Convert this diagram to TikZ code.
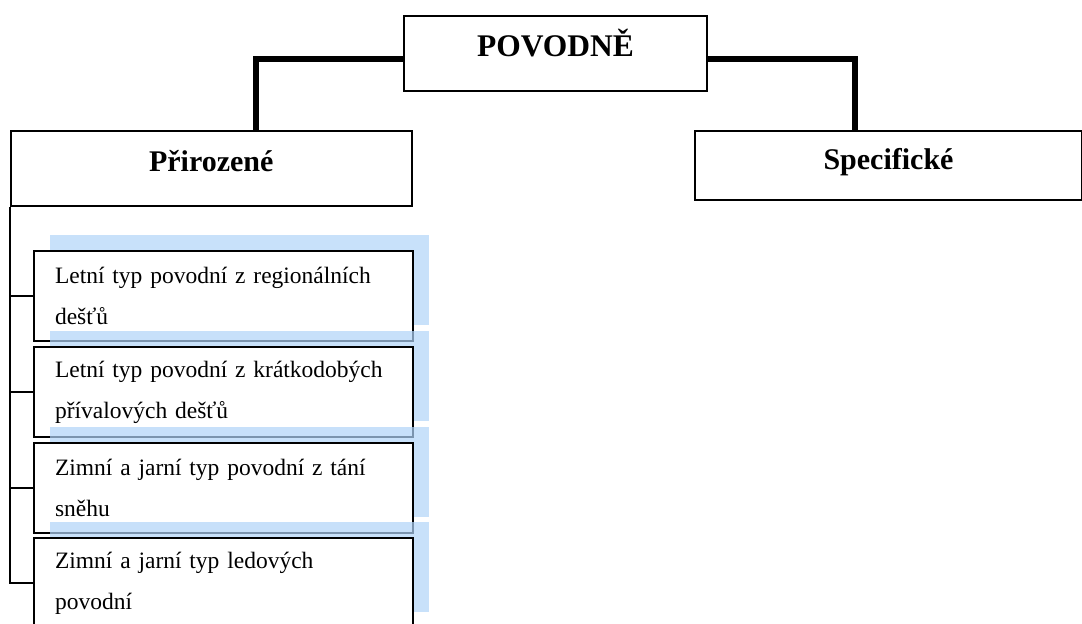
\documentclass[tikz,border=0pt]{standalone}
\usepackage{fontspec}
\setmainfont{Liberation Serif}
\usetikzlibrary{shadows}
\definecolor{shadowblue}{RGB}{176,212,248}
\newcommand{\myitemfont}{\fontsize{23.5}{41}\selectfont\spaceskip=5.2pt plus 1pt minus 1pt\relax}
\begin{document}
\begin{tikzpicture}[x=1pt,y=-1pt,
  hdr/.style={draw, line width=2pt, anchor=north west, inner sep=0pt,
    font=\bfseries\fontsize{30}{36}\selectfont, text height=40pt, text depth=35pt},
  item/.style={draw, line width=2pt, anchor=north west, fill=white,
    minimum height=90pt, text width=337pt, inner xsep=21pt, inner ysep=0pt,
    align=left, font=\myitemfont,
    general shadow={shadow xshift=16pt, shadow yshift=16pt, fill=shadowblue, fill opacity=0.7}},
  thickconn/.style={line width=5.5pt},
  thinconn/.style={line width=2pt}]
\useasboundingbox (0,0) rectangle (1082,624);
\node[hdr, minimum width=303pt, font=\bfseries\fontsize{31.5}{36}\selectfont] (pov) at (403,15) {POVODNĚ};
\node[hdr, minimum width=401.5pt] (pr) at (9.5,130) {Přirozené};
\node[hdr, minimum width=387pt, text height=38pt, text depth=31pt] (sp) at (694,130) {Specifické};
\draw[thickconn] ([yshift=-5.5pt]pov.west) -| ([xshift=44.75pt]pr.north);
\draw[thickconn] ([yshift=-5.5pt]pov.east) -| ([xshift=-33.5pt]sp.north);
\node[item] (b1) at (33,250) {Letní typ povodní z regionálních\\dešťů};
\node[item] (b2) at (33,346) {Letní typ povodní z krátkodobých\\přívalových dešťů};
\node[item] (b3) at (33,442) {Zimní a jarní typ povodní z tání\\sněhu};
\node[item] (b4) at (33,537) {Zimní a jarní typ ledových\\povodní};
\draw[thinconn] (pr.south west) |- (b1.west);
\draw[thinconn] (pr.south west) |- (b2.west);
\draw[thinconn] (pr.south west) |- (b3.west);
\draw[thinconn] (pr.south west) |- (b4.west);
\end{tikzpicture}
\end{document}
